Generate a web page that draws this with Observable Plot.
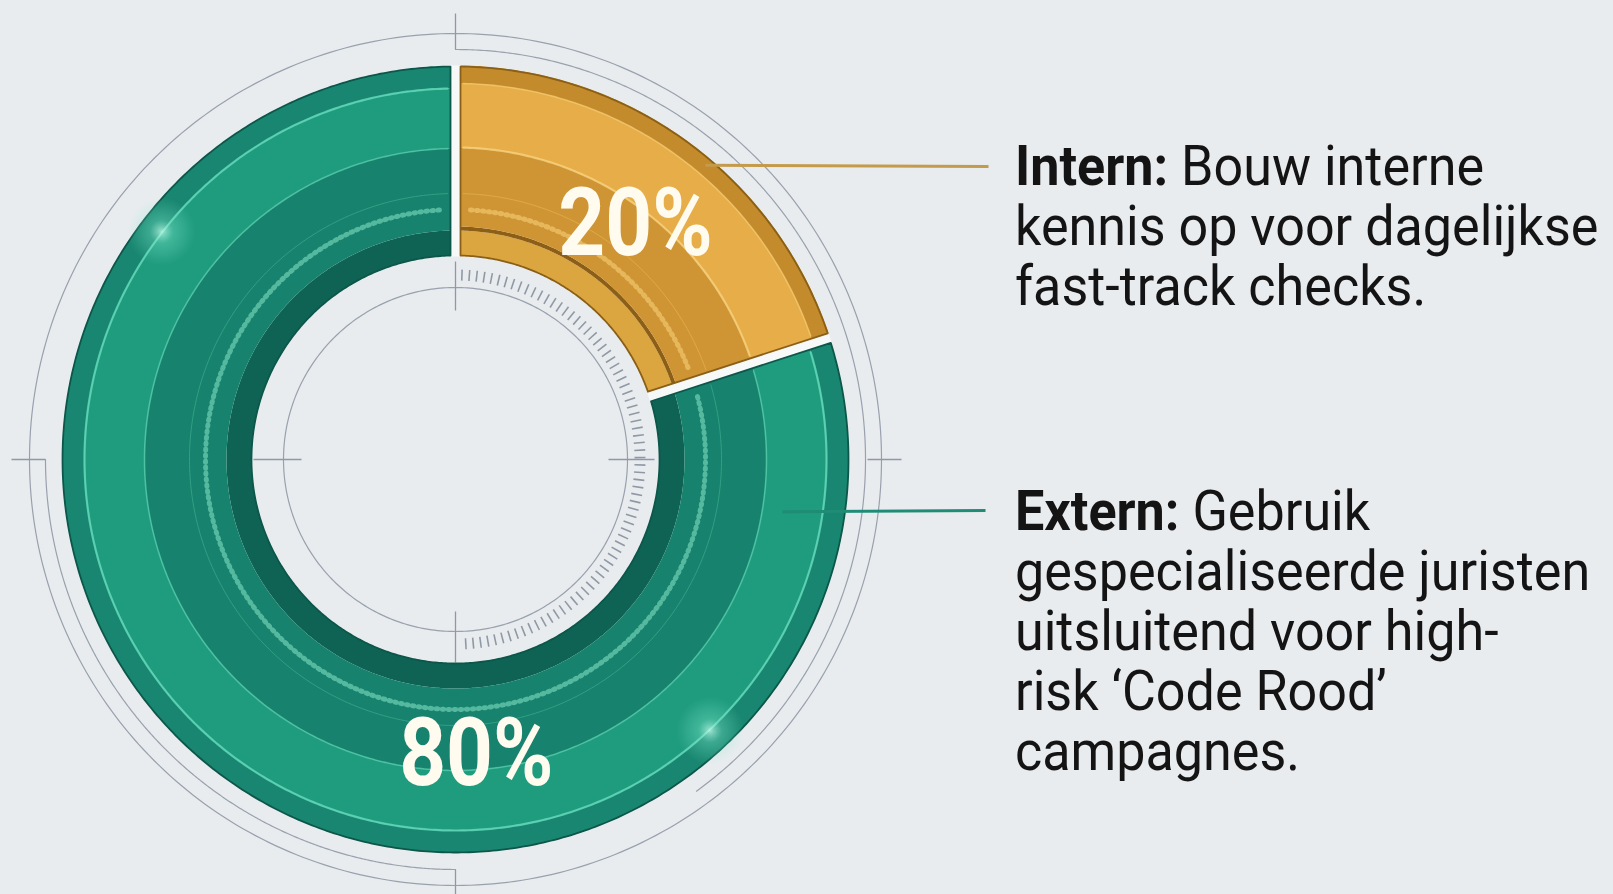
<!DOCTYPE html>
<html><head><meta charset="utf-8">
<script src="https://cdn.jsdelivr.net/npm/d3@7"></script>
<script src="https://cdn.jsdelivr.net/npm/@observablehq/plot@0.6"></script>
<style>
html,body{margin:0;padding:0;background:#e9ecef;overflow:hidden}
#chart{position:relative;width:1613px;height:894px;background:#e9ecef}
#chart svg{position:absolute;left:0;top:0}
.leg{position:absolute;left:1015px;font-family:Roboto,"Noto Sans",sans-serif;font-size:56px;line-height:60px;color:#141414;transform:scaleX(0.93);transform-origin:0 0;white-space:nowrap}
.leg b{font-weight:700}
</style></head><body><div id="chart"></div><script>
// ---- data ----
const categories = ["Intern", "Extern"];
const shares = [20, 80];
const valueLabels = ["20%", "80%"];
const legendLines = [
  ["Bouw interne", "kennis op voor dagelijkse", "fast-track checks."],
  ["Gebruik", "gespecialiseerde juristen", "uitsluitend voor high-", "risk \u2018Code Rood\u2019", "campagnes."]
];

// ---- styles ----
const W = 1613, H = 894, CX = 455, CY = 459;
const R0 = 204, R1 = 393, GAP = 5;
const bands = [
  [[R0, 229, "#dba53f"], [229, 233, "#8d5e16"], [233, 312, "#cf9534"], [312, 376, "#e6ad48"], [376, R1 + 1, "#c38b2c"]],
  [[R0, 229, "#0f6355"], [229, 311, "#17826d"], [311, 371, "#1f9b7e"], [371, R1, "#188670"]]
];
const outlines = ["#8a5f17", "#0d564a"];
const lightArcs = [
  [[312, "#f6cf7a", 2.2], [376, "#f2c468", 1.6], [266, "#e2ad4a", 1]],
  [[371, "#62d8b8", 2.2], [311, "#4fc6a6", 1.6], [266, "#36a58a", 1]]
];
const dotArcR = 250;
const dotColors = ["#f1c76c", "#6fd0b4"];
const labelPos = [0.52, 0.361];     // fraction along slice
const labelR = 296;
const leaderColors = ["#c49a4b", "#1f8d76"];
const leaderFrom = [[0.56, 386], [0.094, 331]];
const leaderY = [166, 510];
const leaderX2 = [988, 985];

const TAU = Math.PI * 2;
const total = d3.sum(shares);
let acc = 0;
const slices = shares.map((v, i) => {
  const a0 = acc / total * TAU; acc += v;
  return {i, cat: categories[i], a0, a1: acc / total * TAU};
});
const P = (r, a) => [r * Math.sin(a), -r * Math.cos(a)];

function arcPoints(r, a0, a1, pad) {
  const s = a0 + pad / r, e = a1 - pad / r;
  const n = Math.max(8, Math.ceil((e - s) / 0.01));
  return d3.range(n + 1).map(k => P(r, s + (e - s) * k / n));
}
// white underlay ring (shows through slice gaps)
const underRows = arcPoints(R1 + 1, 0, TAU, 0).concat(arcPoints(R0 - 1, 0, TAU, 0).reverse()).map(p => ({x: p[0], y: p[1]}));
const bandRows = [];
slices.forEach(s => {
  bands[s.i].forEach((b, j) => {
    const pts = arcPoints(b[1], s.a0, s.a1, GAP).concat(arcPoints(b[0], s.a0, s.a1, GAP).reverse());
    pts.forEach(p => bandRows.push({id: s.cat + j, x: p[0], y: p[1], fill: b[2]}));
  });
});
const outlineRows = [];
slices.forEach(s => {
  const pts = arcPoints(R1, s.a0, s.a1, GAP).concat(arcPoints(R0, s.a0, s.a1, GAP).reverse());
  pts.push(pts[0]);
  pts.forEach(p => outlineRows.push({id: s.cat, x: p[0], y: p[1], stroke: outlines[s.i]}));
});
const arcRows = [];
slices.forEach(s => {
  lightArcs[s.i].forEach((a, j) => {
    arcPoints(a[0], s.a0, s.a1, GAP + 3).forEach(p => arcRows.push({id: s.cat + "a" + j, x: p[0], y: p[1], stroke: a[1], w: a[2]}));
  });
});
const dotRows = [];
slices.forEach(s => {
  arcPoints(dotArcR, s.a0, s.a1, GAP + 10).forEach(p => dotRows.push({id: s.cat, x: p[0], y: p[1], stroke: dotColors[s.i]}));
});
const labelRows = slices.map(s => {
  const a = s.a0 + (s.a1 - s.a0) * labelPos[s.i];
  const p = P(labelR, a);
  return {x: p[0], y: p[1], label: valueLabels[s.i]};
});
const leaderRows = slices.map(s => {
  const p = P(leaderFrom[s.i][1], s.a0 + (s.a1 - s.a0) * leaderFrom[s.i][0]);
  return {x1: p[0], y1: p[1], x2: leaderX2[s.i] - CX, y2: leaderY[s.i] - CY, c: leaderColors[s.i]};
});
// glare highlights on the green ring
const glareRows = [P(372, 1.71 * Math.PI), P(372, 0.76 * Math.PI)].map(p => ({x: p[0], y: p[1]}));

// decorations
const circle = (r, a0, a1, id) => d3.range(0, 361).map(k => {
  const p = P(r, a0 + (a1 - a0) * k / 360); return {id, x: p[0], y: p[1]};
});
const decoCircles = [].concat(
  circle(426, 0, TAU, "c1"),
  circle(172, 0, TAU, "c2"),
  circle(410, 0, 0.8 * Math.PI, "c3"),
  circle(410, Math.PI, 1.5 * Math.PI, "c4")
);
const tickRows = d3.range(2, 179, 2.3).map(d => {
  const a = d / 180 * Math.PI;
  const p = P(179, a), q = P(190, a);
  return {x1: p[0], y1: p[1], x2: q[0], y2: q[1]};
});
const crossRows = [
  {x1: 0, y1: -446, x2: 0, y2: -410},
  {x1: 0, y1: 410, x2: 0, y2: 440},
  {x1: -444, y1: 0, x2: -410, y2: 0},
  {x1: 412, y1: 0, x2: 446, y2: 0},
  {x1: -202, y1: 0, x2: -154, y2: 0},
  {x1: 153, y1: 0, x2: 199, y2: 0},
  {x1: 0, y1: -198, x2: 0, y2: -149},
  {x1: 0, y1: 152, x2: 0, y2: 207}
];

const svg = Plot.plot({
  width: W, height: H, margin: 0,
  x: {domain: [-CX, W - CX], range: [0, W], axis: null},
  y: {domain: [-CY, H - CY], range: [0, H], axis: null},
  color: {type: "identity"},
  style: {background: "transparent", overflow: "visible"},
  marks: [
    Plot.line(decoCircles, {x: "x", y: "y", z: "id", stroke: "#98a1ad", strokeWidth: 1.2}),
    Plot.link(tickRows, {x1: "x1", y1: "y1", x2: "x2", y2: "y2", stroke: "#8f99a6", strokeWidth: 1.6}),
    Plot.link(crossRows, {x1: "x1", y1: "y1", x2: "x2", y2: "y2", stroke: "#8f99a6", strokeWidth: 1.3}),
    Plot.line(underRows, {x: "x", y: "y", fill: "#f7f8f8", stroke: "none"}),
    Plot.line(bandRows, {x: "x", y: "y", z: "id", fill: "fill", stroke: "none", curve: "linear"}),
    Plot.line(arcRows, {x: "x", y: "y", z: "id", stroke: "stroke", strokeWidth: "w", strokeOpacity: 0.85}),
    Plot.line(dotRows, {x: "x", y: "y", z: "id", stroke: "stroke", strokeWidth: 5, strokeDasharray: "1.5,4.5", strokeOpacity: 0.7}),
    Plot.line(outlineRows, {x: "x", y: "y", z: "id", stroke: "stroke", strokeWidth: 1.8}),
    Plot.dot(glareRows, {x: "x", y: "y", r: 34, fill: "url(#glare)", stroke: "none"}),
    Plot.link(leaderRows, {x1: "x1", y1: "y1", x2: "x2", y2: "y2", stroke: "c", strokeWidth: 3}),
    Plot.text(labelRows, {x: "x", y: "y", text: "label", fontSize: 94, fontWeight: 700, fill: "#fffbef", fontFamily: "Roboto", textAnchor: "middle", lineAnchor: "middle"})
  ]
});
const ns = "http://www.w3.org/2000/svg";
const defs = document.createElementNS(ns, "defs");
defs.innerHTML = '<radialGradient id="glare"><stop offset="0" stop-color="#c8fff0" stop-opacity="0.75"/><stop offset="0.35" stop-color="#7fe8cc" stop-opacity="0.35"/><stop offset="1" stop-color="#7fe8cc" stop-opacity="0"/></radialGradient>';
svg.insertBefore(defs, svg.firstChild);
d3.select(svg).selectAll("g[aria-label='text'] text").each(function() {
  const t = this.getAttribute("transform");
  if (t) this.setAttribute("transform", t + " scale(0.87,1)");
  else {
    const x = +this.getAttribute("x") || 0, y = +this.getAttribute("y") || 0;
    this.setAttribute("x", 0); this.setAttribute("y", 0);
    this.setAttribute("transform", `translate(${x},${y}) scale(0.87,1)`);
  }
});
const chart = document.getElementById("chart");
chart.appendChild(svg);
const tops = [136, 481];
categories.forEach((c, i) => {
  const div = document.createElement("div");
  div.className = "leg";
  div.style.top = tops[i] + "px";
  div.innerHTML = legendLines[i].map((l, k) => (k === 0 ? `<b>${c}:</b> ` : "") + l).join("<br>");
  chart.appendChild(div);
});
</script></body></html>
